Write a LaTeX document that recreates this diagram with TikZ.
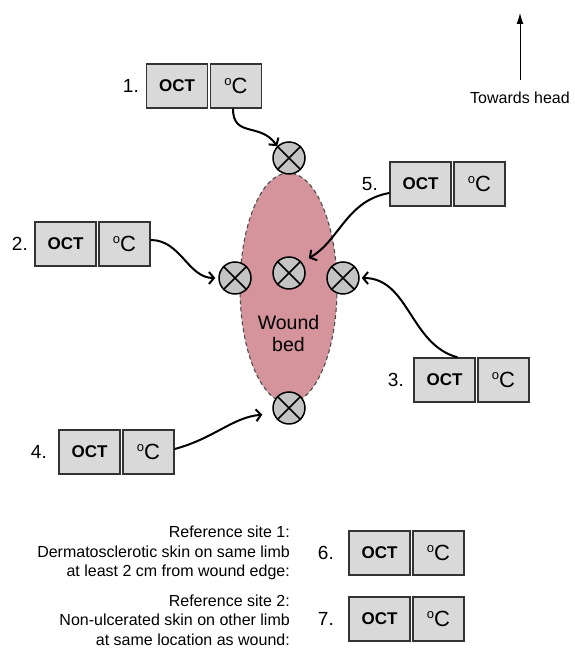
\documentclass[tikz,border=0pt]{standalone}
\usepackage{fontspec}
\setmainfont{Liberation Sans}
\usetikzlibrary{arrows.meta,calc,shapes.geometric}
\definecolor{boxgray}{HTML}{D9D9D9}
\definecolor{sitegray}{HTML}{C4C4C4}
\definecolor{woundpink}{HTML}{D5939B}
\newcommand{\degC}{\raisebox{0.36em}{\fontsize{13}{13}\selectfont o}C}
\begin{document}
\begin{tikzpicture}[x=1pt,y=1pt,
  box/.style={draw=black!80, line width=1.3pt, fill=boxgray, minimum height=44pt, inner sep=0pt},
  octbox/.style={box, minimum width=61pt, font=\fontsize{17}{19}\selectfont\bfseries},
  degbox/.style={box, minimum width=51pt, font=\fontsize{22}{24}\selectfont},
  num/.style={anchor=east, inner sep=0pt, font=\fontsize{19}{21}\selectfont},
  site/.style={circle, draw=black, line width=1.5pt, fill=sitegray, minimum size=32pt, inner sep=0pt},
  link/.style={line width=2pt, -{Straight Barb[length=5pt,width=12pt]}},
  reftext/.style={anchor=east, align=right, inner sep=0pt, font=\fontsize{16}{19.5}\selectfont},
]
\useasboundingbox (0,0) rectangle (574,660);

% wound
\node[ellipse, draw=black!70, dash pattern=on 4pt off 3pt, line width=1.1pt, fill=woundpink,
      minimum width=97pt, minimum height=230pt, inner sep=0pt] (wound) at (288.5,372) {};
\node[align=center, font=\fontsize{19.5}{22}\selectfont] (woundlabel) at (288.5,326) {Wound\\bed};

% sites
\foreach \n/\p in {t/{(289,502)}, l/{(235,382)}, c/{(289,387)}, r/{(343,382)}, b/{(289,252)}}{
  \node[site] (\n) at \p {};
  \draw[line width=1.5pt] (\n.45) -- (\n.225) (\n.135) -- (\n.315);
}

% measurement boxes
\node[octbox] (o1) at (177,574) {OCT};   \node[degbox] (c1) at (236,574) {\degC};   \node[num] (n1) at (139,574) {1.};
\node[octbox] (o2) at (65.5,416) {OCT};  \node[degbox] (c2) at (124.5,416) {\degC}; \node[num] (n2) at (28,416) {2.};
\node[octbox] (o3) at (444.5,280) {OCT}; \node[degbox] (c3) at (503.5,280) {\degC}; \node[num] (n3) at (404,280) {3.};
\node[octbox] (o4) at (89.5,208) {OCT};  \node[degbox] (c4) at (148.5,208) {\degC}; \node[num] (n4) at (47,208) {4.};
\node[octbox] (o5) at (420.5,476) {OCT}; \node[degbox] (c5) at (479.5,476) {\degC}; \node[num] (n5) at (378,476) {5.};
\node[octbox] (o6) at (379.5,107) {OCT}; \node[degbox] (c6) at (438.5,107) {\degC}; \node[num] (n6) at (334,107) {6.};
\node[octbox] (o7) at (379.5,41) {OCT};  \node[degbox] (c7) at (438.5,41) {\degC};  \node[num] (n7) at (334,41) {7.};

% connectors
\draw[link] ([xshift=-3pt]c1.south) to[out=-90,in=125,looseness=1.3] (t.135);
\draw[link, shorten >=3pt] ([yshift=4pt]c2.east) to[out=0,in=180] (l.west);
\draw[link, shorten >=2pt] ([xshift=13pt]o3.north) to[out=165,in=0] (r.east);
\draw[link, shorten >=11pt] ([yshift=3pt]c4.east) to[out=15,in=185] (b.200);
\draw[link, shorten >=8pt] ([yshift=-9pt]o5.west) to[out=190,in=30] (c.40);

% reference texts
\node[reftext] (ref1) at (290,107) {Reference site 1:\\Dermatosclerotic skin on same limb\\at least 2 cm from wound edge:};
\node[reftext] (ref2) at (290,40) {Reference site 2:\\Non-ulcerated skin on other limb\\at same location as wound:};

% orientation
\node[font=\fontsize{16}{18}\selectfont] (th) at (520,562) {Towards head};
\coordinate (headtip) at (520,647);
\draw[line width=1pt, -{Latex[length=11pt,width=7pt]}] ([yshift=9pt]th.north) -- (headtip);
\end{tikzpicture}
\end{document}
